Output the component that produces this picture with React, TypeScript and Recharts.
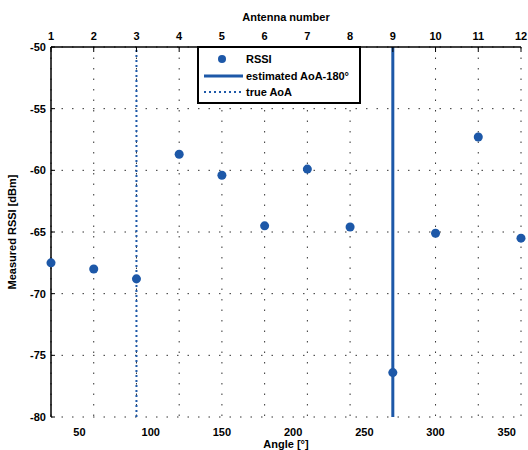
import {
  ComposedChart,
  Scatter,
  XAxis,
  YAxis,
  CartesianGrid,
  ReferenceLine,
} from "recharts";

const angles = [30, 60, 90, 120, 150, 180, 210, 240, 270, 300, 330, 360];
const antennaNumbers = [1, 2, 3, 4, 5, 6, 7, 8, 9, 10, 11, 12];
const rssi = [-67.5, -68.0, -68.8, -58.7, -60.4, -64.5, -59.9, -64.6, -76.4, -65.1, -57.3, -65.5];
const angleTicks = [50, 100, 150, 200, 250, 300, 350];
const rssiTicks = [-80, -75, -70, -65, -60, -55, -50];
const estimatedAoA = 270;
const trueAoA = 90;

const points = angles.map((angle, i) => ({ angle, rssi: rssi[i] }));

const blue = "#1d58a8";
const font = { fontFamily: "Liberation Sans, Arial, sans-serif", fontWeight: 700, fontSize: 11, fill: "#000" };

// legend drawn as an overlay so it doesn't eat into the plot area
function LegendBox() {
  return (
    <div
      style={{
        position: "absolute",
        left: 197,
        top: 46,
        width: 164,
        height: 58,
        boxSizing: "border-box",
        border: "2px solid #000",
        background: "#fff",
      }}
    >
      <svg width={160} height={54} style={{ position: "absolute", left: 0, top: 0 }}>
        <circle cx={23} cy={11} r={4} fill={blue} />
        <line x1={5} x2={44} y1={28} y2={28} stroke={blue} strokeWidth={3} />
        <line x1={5} x2={44} y1={44} y2={44} stroke={blue} strokeWidth={2} strokeDasharray="2 3" />
        <g style={font}>
          <text x={47} y={15}>RSSI</text>
          <text x={47} y={32}>estimated AoA-180°</text>
          <text x={47} y={48}>true AoA</text>
        </g>
      </svg>
    </div>
  );
}

export default function App() {
  return (
    <div style={{ position: "absolute", left: 0, top: 0, width: 528, height: 450, background: "#fff" }}>
      <ComposedChart
        width={528}
        height={450}
        data={points}
        margin={{ top: 27, right: 7, bottom: 13, left: 11 }}
      >
        <CartesianGrid
          xAxisId="top"
          stroke="#333"
          strokeWidth={1}
          strokeDasharray="1.5 9"
        />
        <XAxis
          xAxisId="bottom"
          dataKey="angle"
          type="number"
          domain={[30, 360]}
          ticks={angleTicks}
          orientation="bottom"
          height={20}
          axisLine={false}
          tickLine={false}
          tickMargin={5}
          tick={font}
          label={{ value: "Angle [°]", position: "insideBottom", offset: -11, style: font }}
        />
        <XAxis
          xAxisId="top"
          dataKey="angle"
          type="number"
          domain={[30, 360]}
          ticks={angles}
          orientation="top"
          height={20}
          axisLine={{ stroke: "#000", strokeWidth: 1.5 }}
          tickLine={{ stroke: "#000", strokeWidth: 1 }}
          tickSize={-5}
          tickMargin={12}
          tickFormatter={(v: number) => String(antennaNumbers[angles.indexOf(v)])}
          tick={font}
          label={{ value: "Antenna number", position: "insideTop", offset: -14, style: font }}
        />
        <YAxis
          type="number"
          domain={[-80, -50]}
          ticks={rssiTicks}
          width={40}
          axisLine={{ stroke: "#000", strokeWidth: 1.5 }}
          tickLine={{ stroke: "#000", strokeWidth: 1 }}
          tickSize={-4}
          tickMargin={9}
          tick={font}
          label={{ value: "Measured RSSI [dBm]", angle: -90, position: "insideLeft", offset: 1, style: { ...font, textAnchor: "middle" } }}
        />
        <ReferenceLine xAxisId="bottom" x={trueAoA} stroke={blue} strokeWidth={2} strokeDasharray="2 3" />
        <ReferenceLine xAxisId="bottom" x={estimatedAoA} stroke={blue} strokeWidth={3} />
        <Scatter
          xAxisId="bottom"
          dataKey="rssi"
          fill={blue}
          shape="circle"
          isAnimationActive={false}
        />
      </ComposedChart>
      <LegendBox />
    </div>
  );
}
